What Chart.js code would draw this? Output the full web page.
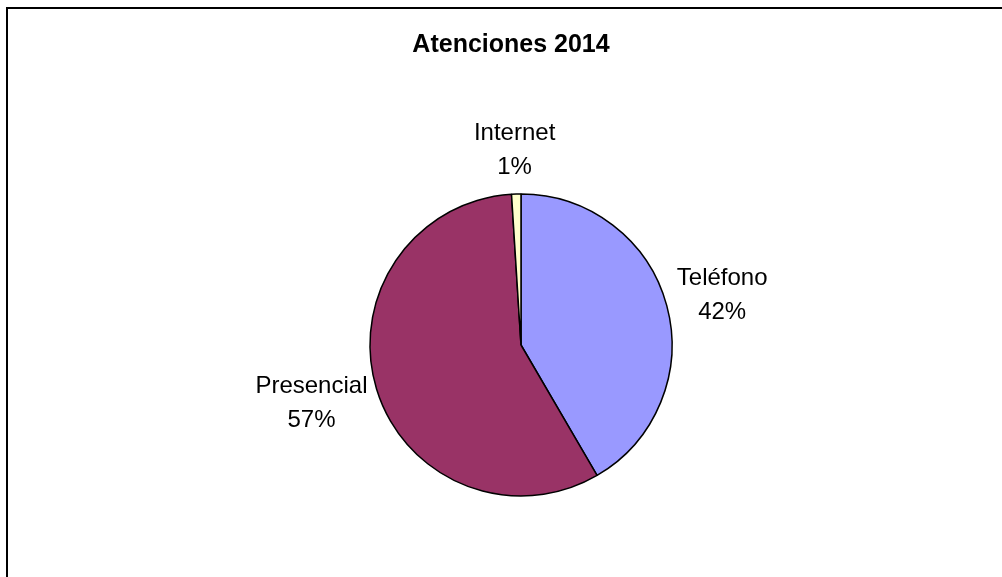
<!DOCTYPE html>
<html>
<head>
<meta charset="utf-8">
<script src="https://cdn.jsdelivr.net/npm/chart.js@4"></script>
<style>
  html, body { margin: 0; padding: 0; background: #fff; overflow: hidden; }
  canvas { display: block; }
</style>
</head>
<body>
<canvas id="grafico" width="1002" height="577"></canvas>
<script>
// --- Datos ---
const categorias = ["Teléfono", "Presencial", "Internet"];
const porcentajes = [41.6, 57.4, 1.0];
const colores = ["#9999FF", "#993366", "#FFFFCC"];
const titulo = "Atenciones 2014";

// Marco + titulo + etiquetas exteriores estilo Excel
const marcoYEtiquetas = {
  id: "marcoYEtiquetas",
  beforeDraw(chart) {
    const ctx = chart.ctx;
    ctx.save();
    ctx.fillStyle = "#fff";
    ctx.fillRect(0, 0, chart.width, chart.height);
    ctx.strokeStyle = "#000";
    ctx.lineWidth = 2;
    ctx.strokeRect(7, 8, chart.width + 20, chart.height + 20);
    ctx.restore();
  },
  afterDraw(chart) {
    const ctx = chart.ctx;
    const meta = chart.getDatasetMeta(0);
    const total = porcentajes.reduce((a, b) => a + b, 0);
    ctx.save();
    ctx.fillStyle = "#000";
    ctx.textAlign = "center";
    ctx.textBaseline = "alphabetic";
    ctx.font = "bold 25px 'Liberation Sans', Arial, sans-serif";
    ctx.fillText(titulo, 511, 52);

    ctx.font = "24px 'Liberation Sans', Arial, sans-serif";
    const alto = 50;
    meta.data.forEach((arc, i) => {
      const p = arc.getProps(["x", "y", "startAngle", "endAngle", "outerRadius"], true);
      const mid = (p.startAngle + p.endAngle) / 2;
      const dx = Math.cos(mid), dy = Math.sin(mid);
      const linea1 = categorias[i];
      const linea2 = Math.round(porcentajes[i] / total * 100) + "%";
      const ancho = Math.max(ctx.measureText(linea1).width, ctx.measureText(linea2).width);
      const cx = p.x + (p.outerRadius + 12) * dx + dx * ancho / 2;
      const cy = p.y + (p.outerRadius + 20) * dy + dy * alto / 2;
      ctx.fillText(linea1, cx, cy - 9);
      ctx.fillText(linea2, cx, cy + 25);
    });
    ctx.restore();
  }
};

new Chart(document.getElementById("grafico"), {
  type: "pie",
  data: {
    labels: categorias,
    datasets: [{
      data: porcentajes,
      backgroundColor: colores,
      borderColor: "#000",
      borderWidth: 1.5,
      radius: 151
    }]
  },
  options: {
    responsive: false,
    animation: false,
    layout: { padding: { left: 369, right: 329, top: 194, bottom: 81 } },
    plugins: {
      legend: { display: false },
      tooltip: { enabled: false },
      title: { display: false }
    }
  },
  plugins: [marcoYEtiquetas]
});
</script>
</body>
</html>
